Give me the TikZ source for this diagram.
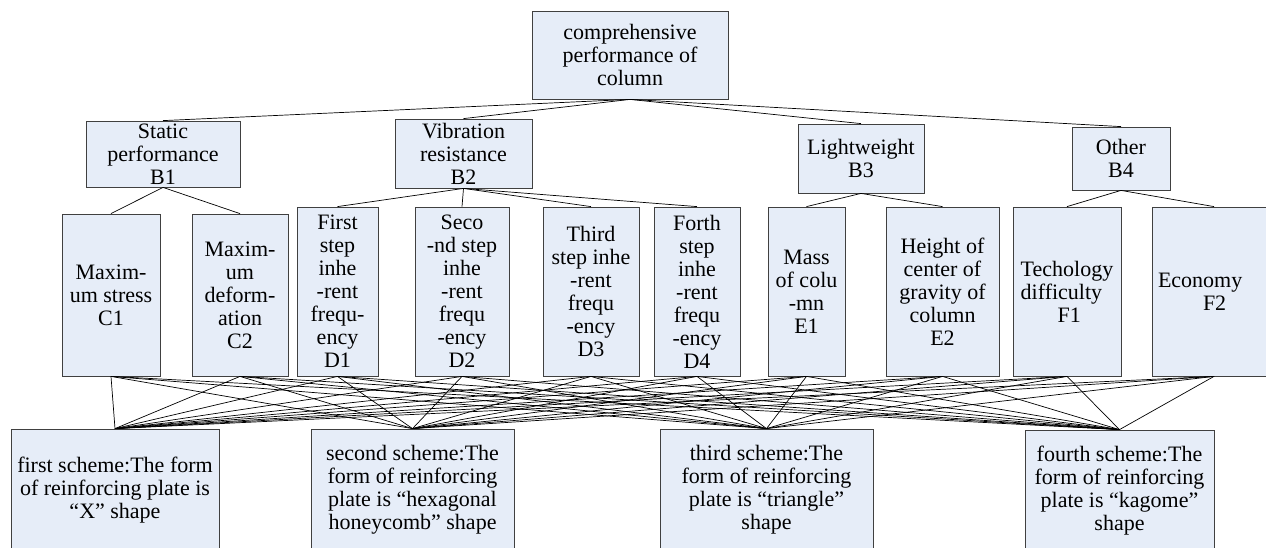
\documentclass[tikz,border=0pt]{standalone}
\usepackage{fontspec}
\setmainfont{Liberation Serif}
\definecolor{boxfill}{RGB}{230,237,248}
\definecolor{boxline}{RGB}{64,64,64}
\tikzset{
  box/.style={draw=boxline, fill=boxfill, line width=0.8pt, inner sep=0pt,
    align=center, font=\rmfamily\fontsize{22}{23}\selectfont},
  link/.style={draw=black, line width=0.7pt},
}
\begin{document}
\begin{tikzpicture}[x=1pt,y=-1pt]
\useasboundingbox (0,0) rectangle (1266,547);
\clip (0,0) rectangle (1266,547);
% level A
\node[box, minimum width=196pt, minimum height=88pt] (top) at (630,55) {comprehensive\\performance of\\column};
% level B
\node[box, minimum width=154pt, minimum height=66pt] (B1) at (163,154) {Static\\performance\\B1};
\node[box, minimum width=137pt, minimum height=69pt] (B2) at (463.5,153.5) {Vibration\\resistance\\B2};
\node[box, minimum width=126pt, minimum height=69pt] (B3) at (861,158.5) {Lightweight\\B3};
\node[box, minimum width=98pt, minimum height=63pt] (B4) at (1121,158.5) {Other\\B4};
% criteria
\node[box, minimum width=98pt, minimum height=162pt] (C1) at (111,295) {Maxim-\\um stress\\C1};
\node[box, minimum width=96pt, minimum height=162pt] (C2) at (240,295) {Maxim-\\um\\deform-\\ation\\C2};
\node[box, minimum width=81pt, minimum height=169pt] (D1) at (337.5,291.5) {First\\step\\inhe\\-rent\\frequ-\\ency\\D1};
\node[box, minimum width=94pt, minimum height=169pt] (D2) at (462,291.5) {Seco\\-nd step\\inhe\\-rent\\frequ\\-ency\\D2};
\node[box, minimum width=96pt, minimum height=169pt] (D3) at (591,291.5) {Third\\step inhe\\-rent\\frequ\\-ency\\D3};
\node[box, minimum width=86pt, minimum height=169pt] (D4) at (697,291.5) {Forth\\step\\inhe\\-rent\\frequ\\-ency\\D4};
\node[box, minimum width=77pt, minimum height=169pt] (E1) at (806.5,291.5) {Mass\\of colu\\-mn\\E1};
\node[box, minimum width=113pt, minimum height=169pt] (E2) at (942.5,291.5) {Height of\\center of\\gravity of\\column\\E2};
\node[box, minimum width=108pt, minimum height=169pt, align=left] (F1) at (1067,291.5) {Techology\\difficulty\\\hspace*{37pt}F1};
\node[box, minimum height=169pt, text width=112pt, inner xsep=6pt, align=left] (F2) at (1214,291.5) {Economy\\\hspace*{45pt}F2};
% schemes
\node[box, minimum width=208pt, minimum height=122pt] (S1) at (115,490) {first scheme:The form\\of reinforcing plate is\\“X” shape};
\node[box, minimum width=203pt, minimum height=122pt] (S2) at (412.5,490) {second scheme:The\\form of reinforcing\\plate is “hexagonal\\honeycomb” shape};
\node[box, minimum width=213pt, minimum height=122pt] (S3) at (766.5,490) {third scheme:The\\form of reinforcing\\plate is “triangle”\\shape};
\node[box, minimum width=189pt, minimum height=122pt] (S4) at (1119.5,491) {fourth scheme:The\\form of reinforcing\\plate is “kagome”\\shape};
% connectors
\foreach \b in {B1,B2,B3,B4} \draw[link] (top.south) -- (\b.north);
\foreach \c in {C1,C2} \draw[link] (B1.south) -- (\c.north);
\foreach \c in {D1,D2,D3,D4} \draw[link] (B2.south) -- (\c.north);
\foreach \c in {E1,E2} \draw[link] (B3.south) -- (\c.north);
\foreach \c in {F1,F2} \draw[link] (B4.south) -- (\c.north);
\foreach \c in {C1,C2,D1,D2,D3,D4,E1,E2,F1,F2}
  \foreach \s in {S1,S2,S3,S4}
    \draw[link] (\c.south) -- (\s.north);
\end{tikzpicture}
\end{document}
